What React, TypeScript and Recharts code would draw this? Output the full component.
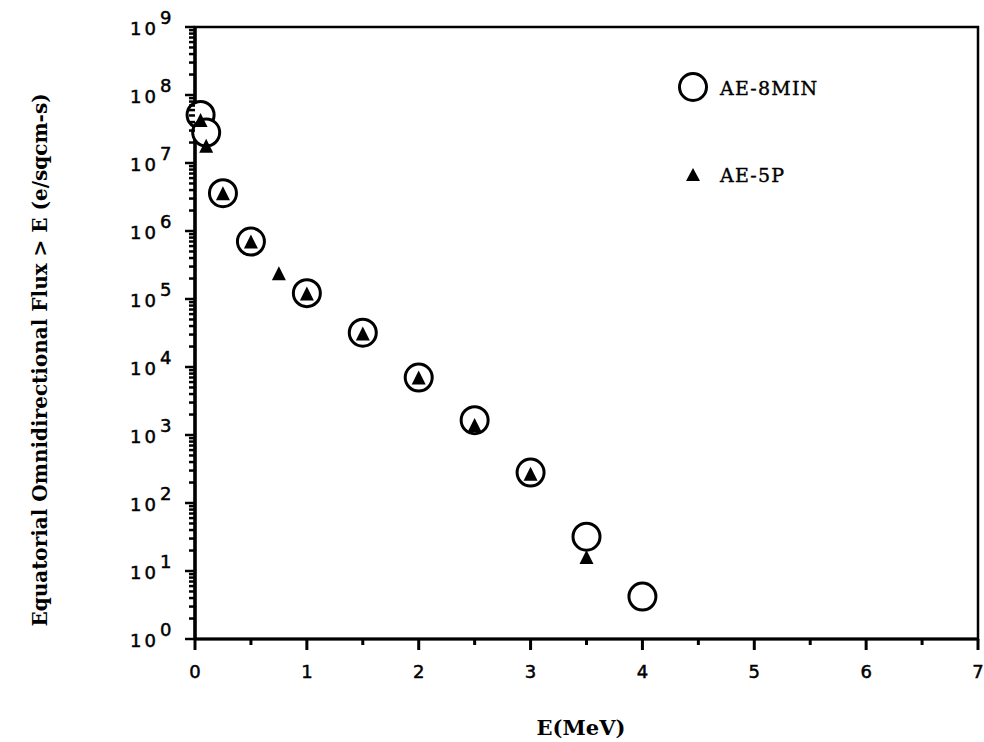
import React from "react";
import { ReferenceArea, Scatter, ScatterChart, XAxis, YAxis } from "recharts";

// AE-8MIN (open circles)
const ae8Energy = [0.05, 0.1, 0.25, 0.5, 1, 1.5, 2, 2.5, 3, 3.5, 4];
const ae8Flux = [5.1e7, 2.8e7, 3.6e6, 7.0e5, 1.22e5, 3.2e4, 7.0e3, 1.65e3, 2.8e2, 32, 4.2];

// AE-5P (filled triangles)
const ae5Energy = [0.05, 0.1, 0.25, 0.5, 0.75, 1, 1.5, 2, 2.5, 3, 3.5];
const ae5Flux = [4.3e7, 1.8e7, 3.6e6, 7.0e5, 2.4e5, 1.2e5, 3.1e4, 7.0e3, 1.4e3, 2.7e2, 16];

const xTicks = [0, 0.5, 1, 1.5, 2, 2.5, 3, 3.5, 4, 4.5, 5, 5.5, 6, 6.5, 7];
const yDecades = [0, 1, 2, 3, 4, 5, 6, 7, 8, 9];
const minorSteps = [2, 3, 4, 5, 6, 7, 8, 9];

// log axis: a major tick per decade, minor ticks at 2..9 in between
const yTicks: number[] = [];
yDecades.forEach((d) => {
  yTicks.push(Math.pow(10, d));
  if (d < 9) minorSteps.forEach((m) => yTicks.push(m * Math.pow(10, d)));
});

const ae8 = ae8Energy.map((e, i) => ({ e, flux: ae8Flux[i] }));
const ae5 = ae5Energy.map((e, i) => ({ e, flux: ae5Flux[i] }));

const SANS = "'DejaVu Sans', Arial, sans-serif";
const SERIF = "'DejaVu Serif', 'Liberation Serif', serif";

function XTick(props: any) {
  const { x, y, payload } = props;
  const v = payload.value as number;
  const major = Number.isInteger(v);
  return (
    <g>
      <line x1={x} x2={x} y1={y} y2={y + (major ? 11 : 6)} stroke="#000" strokeWidth={3} />
      {major && (
        <text
          x={x}
          y={y + 39}
          textAnchor="middle"
          fontFamily={SANS}
          fontSize={18}
          fill="#000"
          stroke="#000"
          strokeWidth={0.5}
        >
          {v}
        </text>
      )}
    </g>
  );
}

function YTick(props: any) {
  const { x, y, payload } = props;
  const v = payload.value as number;
  const exp = Math.round(Math.log10(v));
  const major = Math.abs(v - Math.pow(10, exp)) < 1e-6 * v;
  return (
    <g>
      <line x1={x - (major ? 10 : 6)} x2={x} y1={y} y2={y} stroke="#000" strokeWidth={2.5} />
      {major && (
        <text
          x={x - 65}
          y={y + 8}
          fontFamily={SANS}
          fontSize={18}
          fill="#000"
          stroke="#000"
          strokeWidth={0.5}
          letterSpacing={3}
        >
          10
          <tspan dx={1} dy={-11}>
            {exp}
          </tspan>
        </text>
      )}
    </g>
  );
}

const Ring = (props: any) => (
  <circle cx={props.cx} cy={props.cy} r={13.5} fill="#fff" stroke="#000" strokeWidth={3} />
);

const Tri = (props: any) => {
  const { cx, cy } = props;
  return <polygon points={`${cx},${cy - 7} ${cx - 7},${cy + 7} ${cx + 7},${cy + 7}`} fill="#000" />;
};

export default function App() {
  return (
    <div style={{ position: "absolute", left: 0, top: 0, background: "#fff" }}>
      <ScatterChart width={984} height={742} margin={{ top: 27, right: 6, left: 0, bottom: 0 }}>
        <XAxis
          type="number"
          dataKey="e"
          domain={[0, 7]}
          ticks={xTicks}
          interval={0}
          tickSize={0}
          tickMargin={0}
          height={103}
          axisLine={{ stroke: "#000", strokeWidth: 3 }}
          tickLine={false}
          tick={(p: any) => <XTick {...p} />}
        />
        <YAxis
          type="number"
          dataKey="flux"
          scale="log"
          domain={[1, 1e9]}
          allowDataOverflow
          ticks={yTicks}
          interval={0}
          tickSize={0}
          tickMargin={0}
          width={195}
          axisLine={{ stroke: "#000", strokeWidth: 3.5 }}
          tickLine={false}
          tick={(p: any) => <YTick {...p} />}
        />
        <ReferenceArea x1={0} x2={7} y1={1} y2={1e9} fill="none" stroke="#000" strokeWidth={2.5} />
        <Scatter name="AE-8MIN" data={ae8} shape={Ring} isAnimationActive={false} />
        <Scatter name="AE-5P" data={ae5} shape={Tri} isAnimationActive={false} />

        {/* legend, inside the plot box */}
        <g>
          <circle cx={693} cy={87} r={13.5} fill="#fff" stroke="#000" strokeWidth={3} />
          <text x={720} y={95} fontFamily={SERIF} fontSize={19} letterSpacing={1.2} fill="#000" stroke="#000" strokeWidth={0.4}>
            AE-8MIN
          </text>
          <polygon points="693,168 686,181 700,181" fill="#000" />
          <text x={720} y={182} fontFamily={SERIF} fontSize={19} letterSpacing={1.2} fill="#000" stroke="#000" strokeWidth={0.4}>
            AE-5P
          </text>
        </g>

        <text
          x={581}
          y={735}
          textAnchor="middle"
          fontFamily={SERIF}
          fontWeight="bold"
          fontSize={21}
          fill="#000"
        >
          E(MeV)
        </text>
        <text
          x={0}
          y={0}
          transform="translate(47, 360) rotate(-90)"
          textAnchor="middle"
          fontFamily={SERIF}
          fontWeight="bold"
          fontSize={20}
          fill="#000"
        >
          Equatorial Omnidirectional Flux &gt; E (e/sqcm-s)
        </text>
      </ScatterChart>
    </div>
  );
}
